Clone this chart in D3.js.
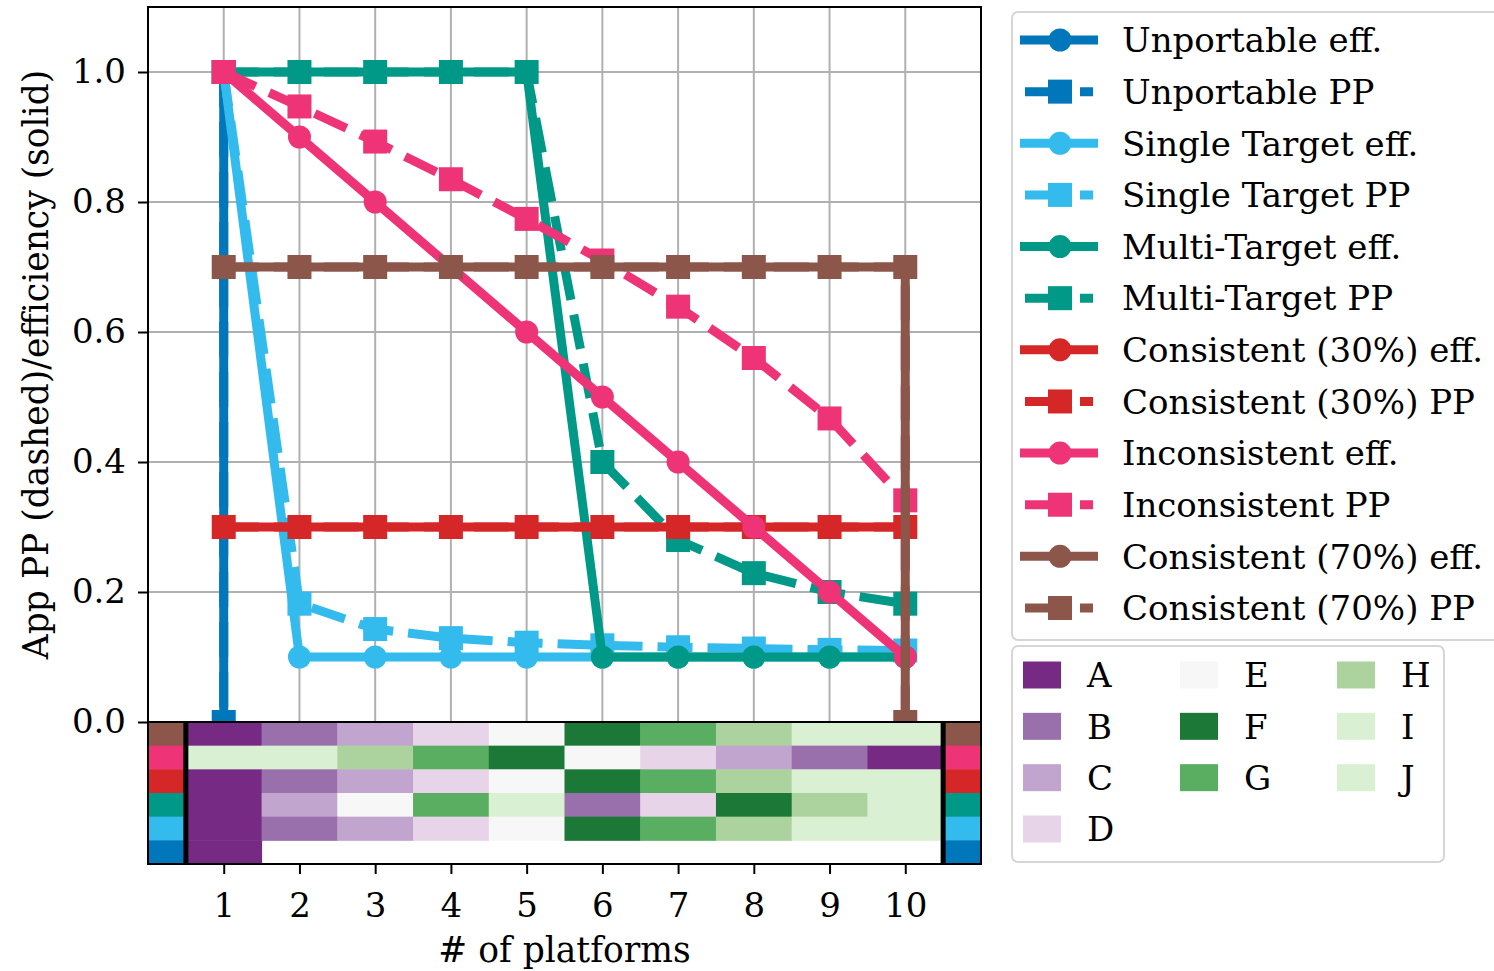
<!DOCTYPE html>
<html>
<head>
<meta charset="utf-8">
<script src="https://cdn.jsdelivr.net/npm/d3@7"></script>
<style>
  html, body { margin: 0; padding: 0; background: #fff; }
  svg { display: block; }
  text { font-family: "DejaVu Serif", serif; fill: #000; }
</style>
</head>
<body>
<svg id="chart" width="1494" height="971"></svg>
<script>
// ---------------- data ----------------
const platforms = [1, 2, 3, 4, 5, 6, 7, 8, 9, 10];
const yTicks = [0.0, 0.2, 0.4, 0.6, 0.8, 1.0];

const unportableX   = [1, 1];
const unportableEff = [1.0, 0.0];
const unportablePP  = [1.0, 0.0];

const singleX   = platforms;
const singleEff = [1.0, 0.1, 0.1, 0.1, 0.1, 0.1, 0.1, 0.1, 0.1, 0.1];
const singlePP  = [1.0, 0.182, 0.143, 0.129, 0.122, 0.118, 0.115, 0.113, 0.111, 0.110];

const multiX   = platforms;
const multiEff = [1.0, 1.0, 1.0, 1.0, 1.0, 0.1, 0.1, 0.1, 0.1, 0.1];
const multiPP  = [1.0, 1.0, 1.0, 1.0, 1.0, 0.40, 0.28, 0.229, 0.20, 0.182];

const cons30X   = platforms;
const cons30Eff = [0.3, 0.3, 0.3, 0.3, 0.3, 0.3, 0.3, 0.3, 0.3, 0.3];
const cons30PP  = [0.3, 0.3, 0.3, 0.3, 0.3, 0.3, 0.3, 0.3, 0.3, 0.3];

const inconsX   = platforms;
const inconsEff = [1.0, 0.9, 0.8, 0.7, 0.6, 0.5, 0.4, 0.3, 0.2, 0.1];
const inconsPP  = [1.0, 0.947, 0.893, 0.835, 0.774, 0.710, 0.639, 0.560, 0.467, 0.341];

const cons70X   = [1, 2, 3, 4, 5, 6, 7, 8, 9, 10, 10];
const cons70Eff = [0.7, 0.7, 0.7, 0.7, 0.7, 0.7, 0.7, 0.7, 0.7, 0.7, 0.0];
const cons70PP  = [0.7, 0.7, 0.7, 0.7, 0.7, 0.7, 0.7, 0.7, 0.7, 0.7, 0.0];

const seriesNames  = ["Unportable", "Single Target", "Multi-Target", "Consistent (30%)", "Inconsistent", "Consistent (70%)"];
const seriesColors = ["#0077BB", "#33BBEE", "#009988", "#D62728", "#EE3377", "#8C564B"];

// heat-map: platform letters per column (1..10), rows top -> bottom
const heatRowSeries = ["Consistent (70%)", "Inconsistent", "Consistent (30%)", "Multi-Target", "Single Target", "Unportable"];
const heatCons70  = ["A", "B", "C", "D", "E", "F", "G", "H", "I", "J"];
const heatIncons  = ["J", "I", "H", "G", "F", "E", "D", "C", "B", "A"];
const heatCons30  = ["A", "B", "C", "D", "E", "F", "G", "H", "I", "J"];
const heatMulti   = ["A", "C", "E", "G", "I", "B", "D", "F", "H", "J"];
const heatSingle  = ["A", "B", "C", "D", "E", "F", "G", "H", "I", "J"];
const heatUnport  = ["A", null, null, null, null, null, null, null, null, null];

const letters      = ["A", "B", "C", "D", "E", "F", "G", "H", "I", "J"];
const letterColors = ["#762A83", "#9970AB", "#C2A5CF", "#E7D4E8", "#F7F7F7", "#1B7837", "#5AAE61", "#ACD39E", "#D9F0D3", "#D9F0D3"];

// ---------------- layout ----------------
const svg = d3.select("#chart");
const L = 148, R = 981, T = 7, MB = 722, HB = 864;
const FONT_TICK = 34, FONT_LABEL = 34.5, FONT_LEG = 34;
const LW = 9, CR = 11.5, SQ = 24;

const x = d3.scaleLinear().domain([0, 11]).range([L, R]);
const y = d3.scaleLinear().domain([0, 1.1]).range([MB, T]);
const colorOf = d3.scaleOrdinal().domain(seriesNames).range(seriesColors);
const letterColor = d3.scaleOrdinal().domain(letters).range(letterColors);

svg.append("rect").attr("width", 1494).attr("height", 971).attr("fill", "#fff");

// clip
svg.append("defs").append("clipPath").attr("id", "plotclip")
  .append("rect").attr("x", L).attr("y", T).attr("width", R - L).attr("height", MB - T);

// grid
const grid = svg.append("g");
grid.selectAll("line.vx").data(platforms).join("line")
  .attr("x1", d => x(d)).attr("x2", d => x(d)).attr("y1", T).attr("y2", MB)
  .attr("stroke", "#b0b0b0").attr("stroke-width", 2);
grid.selectAll("line.hy").data(yTicks).join("line")
  .attr("x1", L).attr("x2", R).attr("y1", d => y(d)).attr("y2", d => y(d))
  .attr("stroke", "#b0b0b0").attr("stroke-width", 2);

// series
const series = [
  { name: "Unportable",       xs: unportableX, eff: unportableEff, pp: unportablePP },
  { name: "Single Target",    xs: singleX,     eff: singleEff,     pp: singlePP },
  { name: "Multi-Target",     xs: multiX,      eff: multiEff,      pp: multiPP },
  { name: "Consistent (30%)", xs: cons30X,     eff: cons30Eff,     pp: cons30PP },
  { name: "Inconsistent",     xs: inconsX,     eff: inconsEff,     pp: inconsPP },
  { name: "Consistent (70%)", xs: cons70X,     eff: cons70Eff,     pp: cons70PP }
];

const plot = svg.append("g").attr("clip-path", "url(#plotclip)");
const line = d3.line().x(d => x(d[0])).y(d => y(d[1]));
const DASH = "35 15";

series.forEach(s => {
  const c = colorOf(s.name);
  const effPts = s.xs.map((xv, i) => [xv, s.eff[i]]);
  const ppPts  = s.xs.map((xv, i) => [xv, s.pp[i]]);
  // efficiency: solid + circles
  plot.append("path").datum(effPts).attr("d", line)
    .attr("fill", "none").attr("stroke", c).attr("stroke-width", LW).attr("stroke-linejoin", "round");
  plot.append("g").selectAll("circle").data(effPts).join("circle")
    .attr("cx", d => x(d[0])).attr("cy", d => y(d[1])).attr("r", CR).attr("fill", c);
  // PP: dashed + squares
  plot.append("path").datum(ppPts).attr("d", line)
    .attr("fill", "none").attr("stroke", c).attr("stroke-width", LW)
    .attr("stroke-dasharray", DASH).attr("stroke-linejoin", "round");
  plot.append("g").selectAll("rect").data(ppPts).join("rect")
    .attr("x", d => x(d[0]) - SQ / 2).attr("y", d => y(d[1]) - SQ / 2)
    .attr("width", SQ).attr("height", SQ).attr("fill", c);
});

// main axes frame
svg.append("rect").attr("x", L).attr("y", T).attr("width", R - L).attr("height", MB - T)
  .attr("fill", "none").attr("stroke", "#000").attr("stroke-width", 2);

// y axis
const yAxis = d3.axisLeft(y).tickValues(yTicks).tickFormat(d3.format(".1f")).tickSize(10).tickPadding(12);
const gy = svg.append("g").attr("transform", `translate(${L},0)`).call(yAxis);
gy.select(".domain").remove();
gy.selectAll(".tick line").attr("stroke", "#000").attr("stroke-width", 2);
gy.selectAll(".tick text").attr("font-size", FONT_TICK).attr("font-family", "DejaVu Serif").attr("fill", "#000");

// ---------------- heat-map ----------------
const heatRows = [heatCons70, heatIncons, heatCons30, heatMulti, heatSingle, heatUnport];
const rowBand = d3.scaleBand().domain(heatRowSeries).range([MB, HB]);
const heat = svg.append("g");
heatRows.forEach((row, ri) => {
  const rname = heatRowSeries[ri];
  heat.append("g").selectAll("rect").data(row.map((l, ci) => ({ l, p: platforms[ci] })).filter(d => d.l))
    .join("rect")
    .attr("x", d => x(d.p - 0.5)).attr("width", d => x(d.p + 0.5) - x(d.p - 0.5) + 0.5)
    .attr("y", rowBand(rname)).attr("height", rowBand.bandwidth() + 0.5)
    .attr("fill", d => letterColor(d.l));
  // side strips
  heat.append("rect").attr("x", x(0)).attr("width", x(0.5) - x(0))
    .attr("y", rowBand(rname)).attr("height", rowBand.bandwidth() + 0.5).attr("fill", colorOf(rname));
  heat.append("rect").attr("x", x(10.5)).attr("width", x(11) - x(10.5))
    .attr("y", rowBand(rname)).attr("height", rowBand.bandwidth() + 0.5).attr("fill", colorOf(rname));
});
[0.5, 10.5].forEach(v => {
  heat.append("line").attr("x1", x(v)).attr("x2", x(v)).attr("y1", MB).attr("y2", HB)
    .attr("stroke", "#000").attr("stroke-width", 5);
});
svg.append("rect").attr("x", L).attr("y", MB).attr("width", R - L).attr("height", HB - MB)
  .attr("fill", "none").attr("stroke", "#000").attr("stroke-width", 2);

// x axis
const xAxis = d3.axisBottom(x).tickValues(platforms).tickFormat(d3.format("d")).tickSize(10).tickPadding(19);
const gx = svg.append("g").attr("transform", `translate(0,${HB})`).call(xAxis);
gx.select(".domain").remove();
gx.selectAll(".tick line").attr("stroke", "#000").attr("stroke-width", 2);
gx.selectAll(".tick text").attr("font-size", FONT_TICK).attr("font-family", "DejaVu Serif").attr("fill", "#000");

// axis labels
svg.append("text").attr("x", (L + R) / 2).attr("y", 962).attr("text-anchor", "middle")
  .attr("font-size", FONT_LABEL).text("# of platforms");
svg.append("text").attr("transform", `translate(48,${(T + MB) / 2}) rotate(-90)`).attr("text-anchor", "middle")
  .attr("font-size", FONT_LABEL).text("App PP (dashed)/efficiency (solid)");

// ---------------- legend 1: series ----------------
const leg1 = svg.append("g");
leg1.append("rect").attr("x", 1012).attr("y", 12).attr("width", 520).attr("height", 628)
  .attr("rx", 6).attr("fill", "#fff").attr("fill-opacity", 0.8).attr("stroke", "#d6d6d6").attr("stroke-width", 2);
const legItems = [];
series.forEach(s => {
  legItems.push({ name: s.name, kind: "eff", label: s.name + " eff." });
  legItems.push({ name: s.name, kind: "pp", label: s.name + " PP" });
});
const legY = d3.scaleLinear().domain([0, legItems.length - 1]).range([40, 608]);
legItems.forEach((it, i) => {
  const cy = legY(i), c = colorOf(it.name);
  if (it.kind === "eff") {
    leg1.append("line").attr("x1", 1020).attr("x2", 1098).attr("y1", cy).attr("y2", cy)
      .attr("stroke", c).attr("stroke-width", LW);
    leg1.append("circle").attr("cx", 1060).attr("cy", cy).attr("r", CR).attr("fill", c);
  } else {
    leg1.append("line").attr("x1", 1025).attr("x2", 1093).attr("y1", cy).attr("y2", cy)
      .attr("stroke", c).attr("stroke-width", LW).attr("stroke-dasharray", "33 22");
    leg1.append("rect").attr("x", 1060 - SQ / 2).attr("y", cy - SQ / 2).attr("width", SQ).attr("height", SQ).attr("fill", c);
  }
  leg1.append("text").attr("x", 1122).attr("y", cy + FONT_LEG * 0.36).attr("font-size", FONT_LEG).text(it.label);
});

// ---------------- legend 2: platforms ----------------
const leg2 = svg.append("g");
leg2.append("rect").attr("x", 1012).attr("y", 646).attr("width", 432).attr("height", 216)
  .attr("rx", 6).attr("fill", "#fff").attr("fill-opacity", 0.8).attr("stroke", "#d6d6d6").attr("stroke-width", 2);
const colX = [1023, 1180, 1337];
const rowsPerCol = 4;
const leg2Col = [0, 0, 0, 0, 1, 1, 1, 2, 2, 2];
const leg2Row = [0, 1, 2, 3, 0, 1, 2, 0, 1, 2];
const leg2Y = d3.scaleLinear().domain([0, rowsPerCol - 1]).range([675, 829]);
letters.forEach((l, i) => {
  const px = colX[leg2Col[i]], cy = leg2Y(leg2Row[i]);
  leg2.append("rect").attr("x", px).attr("y", cy - 13.5).attr("width", 38).attr("height", 27)
    .attr("fill", letterColor(l));
  leg2.append("text").attr("x", px + 64).attr("y", cy + FONT_LEG * 0.36).attr("font-size", FONT_LEG).text(l);
});
</script>
</body>
</html>
